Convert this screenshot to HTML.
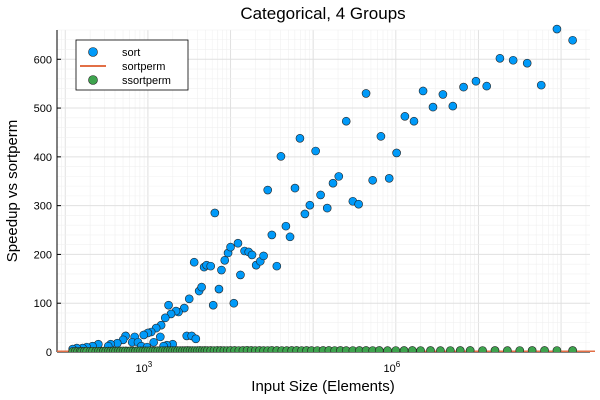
<!DOCTYPE html>
<html><head><meta charset="utf-8"><style>
body{margin:0;background:#fff}
svg{display:block;font-family:"Liberation Sans","DejaVu Sans",sans-serif}
</style></head><body>
<svg id="chart" width="600" height="400" viewBox="0 0 600 400"></svg>
<script>
// log10 of input size (elements), speedup
const sortLogSize=[4.45,4.61,4.84,4.78,5.03,4.90,4.96,5.09,5.17,5.24,5.31,5.40,5.48,5.55,5.64,5.72,5.82,5.92,6.01,6.11,6.22,6.33,6.45,6.57,6.69,6.82,6.97,7.10,7.26,7.42,7.59,7.76,7.95,8.14,3.81,4.72,4.50,4.67,4.56,3.56,3.68,3.71,3.76,4.12,3.89,3.93,3.97,4.00,4.09,4.17,4.22,4.26,4.31,4.36,4.40,3.86,4.04,3.79,3.62,3.65,3.50,3.44,3.25,3.37,3.34,3.28,3.21,3.16,3.10,3.15,3.04,3.00,2.95,3.07,2.84,2.73,2.70,2.81,2.88,2.92,2.99,3.47,3.53,3.58,3.30,3.23,3.19,2.63,2.55,2.52,2.40,2.33,2.26,2.21,2.14,2.09];
const sortSpeedup=[332,401,438,336,412,283,301,322,295,346,360,473,309,303,530,352,442,356,408,483,473,535,502,528,504,543,555,545,602,598,592,547,662,639,285,236,240,258,176,184,174,178,176,158,168,188,203,215,223,207,205,199,178,186,197,129,100,96,125,133,109,90,96,82,84,78,70,55,49,31,41,39,35,20,31,33,25,20,20,12,10,33,33,27,16,14,12,18,16,12,16,12,10,8,8,6];
const ssLogSize=[2.09,2.12,2.15,2.18,2.2,2.23,2.26,2.3,2.33,2.37,2.4,2.43,2.46,2.49,2.52,2.55,2.58,2.61,2.64,2.67,2.7,2.73,2.76,2.79,2.82,2.85,2.88,2.91,2.94,2.97,3.0,3.03,3.06,3.09,3.12,3.15,3.18,3.21,3.24,3.27,3.3,3.33,3.36,3.39,3.42,3.45,3.48,3.51,3.54,3.57,3.6,3.63,3.66,3.69,3.72,3.76,3.8,3.84,3.88,3.92,3.96,4.0,4.05,4.1,4.15,4.2,4.25,4.3,4.35,4.4,4.45,4.5,4.56,4.62,4.68,4.74,4.8,4.86,4.92,4.98,5.05,5.12,5.19,5.26,5.33,5.4,5.48,5.56,5.64,5.72,5.8,5.9,6.0,6.1,6.2,6.3,6.42,6.54,6.66,6.78,6.9,7.05,7.2,7.35,7.5,7.65,7.8,7.95,8.14];
const ssSpeedup=[1.1,1.2,1.3,1.2,1.5,1.4,1.6,1.5,1.7,1.6,1.8,1.7,1.9,1.8,2.0,1.9,2.1,2.0,2.2,2.1,2.3,2.2,2.0,2.4,2.2,2.1,2.3,2.5,2.2,2.4,2.3,2.6,2.4,2.5,2.7,2.5,2.8,2.6,2.9,2.7,3.0,2.8,2.9,3.1,2.9,3.0,3.2,3.0,2.9,3.1,3.0,3.3,3.1,3.2,3.0,3.2,3.1,3.3,3.2,3.0,3.1,3.2,3.3,3.1,3.2,3.4,3.3,3.1,3.2,3.0,3.1,3.3,3.2,3.1,3.0,3.2,3.3,3.1,3.2,3.0,3.1,3.2,3.3,3.1,3.2,3.0,3.1,3.2,3.3,3.1,3.2,3.0,3.1,3.2,3.3,3.1,3.2,3.0,3.1,3.2,3.3,3.1,3.2,3.0,3.1,3.2,3.3,3.1,3.2];
const sortpermValue=1;
const yTicks=[0,100,200,300,400,500,600];
const xTickExps=[3,6];

const svg=document.getElementById('chart');
const NS='http://www.w3.org/2000/svg';
const L=57,R=590,T=30,B=352;
const xMinL=1.9,xMaxL=8.35,yMin=0,yMax=660;
const X=l=>L+(l-xMinL)/(xMaxL-xMinL)*(R-L);
const Y=v=>B-(v-yMin)/(yMax-yMin)*(B-T);
function mk(tag,attrs,parent){const e=document.createElementNS(NS,tag);for(const k in attrs)e.setAttribute(k,attrs[k]);(parent||svg).appendChild(e);return e;}

const defs=mk('defs',{});
const cp=mk('clipPath',{id:'plotclip'},defs);
mk('rect',{x:L,y:T-10,width:R-L+5,height:B-T+10},cp);

const grid=mk('g',{});


for(let d=1;d<=8;d++){for(let m=1;m<=9;m++){const l=d+Math.log10(m);if(l<xMinL||l>xMaxL)continue;
mk('line',{x1:X(l),x2:X(l),y1:T,y2:B,stroke:m===1?'#e0e0e0':'#f0f0f0','stroke-width':m===1?1:0.6},grid);}}
for(let v=0;v<=yMax;v+=20){mk('line',{x1:L,x2:R,y1:Y(v),y2:Y(v),stroke:v%100===0?'#e0e0e0':'#f0f0f0','stroke-width':v%100===0?1:0.6},grid);}

mk('line',{x1:L,x2:L,y1:T,y2:B,stroke:'#000','stroke-width':1});
mk('line',{x1:L,x2:R,y1:B,y2:B,stroke:'#000','stroke-width':1});
yTicks.forEach(v=>{
 mk('line',{x1:L,x2:L+4,y1:Y(v),y2:Y(v),stroke:'#000'});
 const t=mk('text',{x:L-5,y:Y(v)+4,'text-anchor':'end','font-size':11});t.textContent=v;
 
 
});
xTickExps.forEach(e=>{
 mk('line',{x1:X(e),x2:X(e),y1:B,y2:B-4,stroke:'#000'});
 const t=mk('text',{x:X(e)-4,y:B+20,'text-anchor':'middle','font-size':11});t.innerHTML='10<tspan dy="-5" font-size="8">'+e+'</tspan>';
 
 
});

const plot=mk('g',{'clip-path':'url(#plotclip)'});



sortLogSize.forEach((l,i)=>{const c=mk('circle',{cx:X(l),cy:Y(sortSpeedup[i]),r:4,fill:'#009af9',stroke:'#222','stroke-width':0.6},plot);
 
 });
const sp=mk('line',{x1:L,x2:R+5,y1:Y(sortpermValue),y2:Y(sortpermValue),stroke:'#e26f46','stroke-width':2},plot);


ssLogSize.forEach((l,i)=>{const c=mk('circle',{cx:X(l),cy:Y(ssSpeedup[i]),r:4,fill:'#3ea44e',stroke:'#222','stroke-width':0.6},plot);
 
 });

const title=mk('text',{x:323,y:19,'text-anchor':'middle','font-size':17});title.textContent='Categorical, 4 Groups';


const xl=mk('text',{x:323,y:391,'text-anchor':'middle','font-size':15});xl.textContent='Input Size (Elements)';


const yl=mk('text',{x:0,y:0,'text-anchor':'middle','font-size':15,transform:'translate(17,191) rotate(-90)'});yl.textContent='Speedup vs sortperm';



const lg=mk('g',{});


mk('rect',{x:76,y:40,width:112,height:50,fill:'#fff',stroke:'#000','stroke-width':0.8},lg);
const names=['sort','sortperm','ssortperm'];
names.forEach((n,i)=>{const y=52+i*14;
 if(i===1)mk('line',{x1:80,x2:106,y1:y,y2:y,stroke:'#e26f46','stroke-width':2},lg);
 else mk('circle',{cx:93,cy:y,r:4.5,fill:i===0?'#009af9':'#3ea44e',stroke:'#222','stroke-width':0.6},lg);
 const t=mk('text',{x:122,y:y+4,'font-size':11},lg);t.textContent=n;
 
 
});
</script>
</body></html>
